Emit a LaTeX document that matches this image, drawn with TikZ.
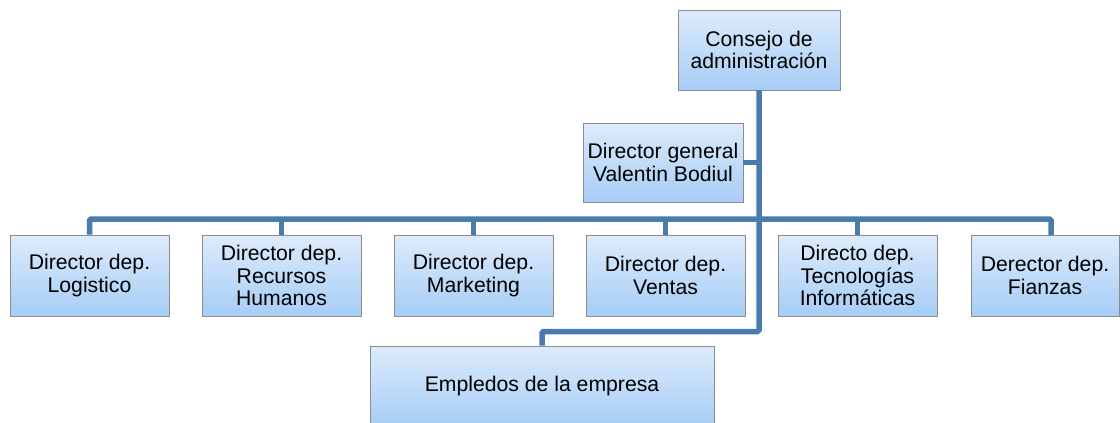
\documentclass[tikz,border=0pt]{standalone}
\usepackage{fontspec}
\setmainfont{Liberation Sans}
\definecolor{boxtop}{HTML}{DDEBFC}
\definecolor{boxbot}{HTML}{A6CDF6}
\definecolor{boxline}{HTML}{8C8C8C}
\definecolor{linkblue}{HTML}{4A7BAD}

\begin{document}
\begin{tikzpicture}[x=1pt,y=-1pt,
  box/.style={draw=boxline, line width=0.8pt, top color=boxtop, bottom color=boxbot,
    align=center, inner sep=0pt, font=\fontsize{21.2}{22.5}\selectfont},
  link/.style={draw=linkblue, line width=5.5pt, rounded corners=1.5pt}]
\useasboundingbox (0,0) rectangle (1120,423);

% top of the chart
\node[box, minimum width=162pt, minimum height=80pt] (board) at (759,50) {Consejo de\\administraci\'on};
\node[box, minimum width=160pt, minimum height=79pt] (gen) at (663,162.5) {Director general\\Valentin Bodiul};

% departments
\foreach \x/\n/\t in {89.5/log/{Director dep.\\Logistico},
                       281.5/rrhh/{Director dep.\\Recursos\\Humanos},
                       473.5/mkt/{Director dep.\\Marketing},
                       665.5/ven/{Director dep.\\Ventas},
                       857.5/ti/{Directo dep.\\Tecnolog\'ias\\Inform\'aticas}}
  \node[box, minimum width=159pt, minimum height=81pt] (d\n) at (\x,275.5) {\t};
\node[box, minimum width=148pt, minimum height=81pt] (dfin) at (1045,275.5) {Derector dep.\\Fianzas};

\node[box, minimum width=344pt, minimum height=80pt] (emp) at (542,386) {Empledos de la empresa};

% connectors
\coordinate (bar) at (0,219);
\coordinate (fin) at (1051,235);
\coordinate (tbot) at (759,331.5);
\draw[link] (board.south) -- (tbot) -- (tbot -| emp.north) -- (emp.north);
\draw[link] (gen.east) -- (gen.east -| board.south);
\draw[link] (dlog.north) |- (bar -| fin) -- (fin);
\foreach \n in {rrhh,mkt,ven,ti}
  \draw[link] (d\n.north) -- (d\n.north |- bar);
\end{tikzpicture}
\end{document}
